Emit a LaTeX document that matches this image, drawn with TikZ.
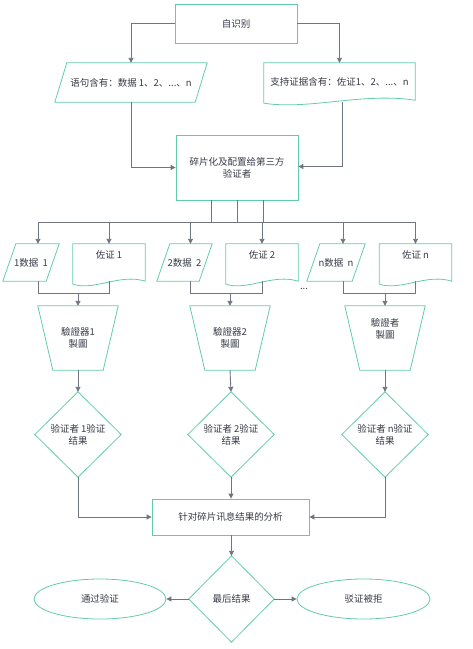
\documentclass[tikz,border=0pt]{standalone}
\usepackage{fontspec}
\setmainfont{Noto Sans CJK SC}
\usetikzlibrary{arrows.meta,calc,shapes.geometric}
\definecolor{bd}{RGB}{98,204,170}
\definecolor{ln}{RGB}{112,117,128}
\definecolor{tx}{RGB}{55,58,70}
\newcommand\mypgram[2]{\draw[shp] ($(#1.north west)+(#2,0)$) -- (#1.north east) -- ($(#1.south east)+(-#2,0)$) -- (#1.south west) -- cycle;}
\newcommand\mydoc[1]{\draw[shp] ($(#1.south west)+(0,3)$) -- (#1.north west) -- (#1.north east) -- (#1.south east) .. controls ($(#1.south east)!0.35!(#1.south west)+(0,-8)$) and ($(#1.south east)!0.7!(#1.south west)+(0,10)$) .. ($(#1.south west)+(0,3)$);}
\newcommand\mytrap[1]{\draw[shp] (#1.north west) -- (#1.north east) -- ($(#1.south east)+(-15,0)$) -- ($(#1.south west)+(15,0)$) -- cycle;}
\newcommand\mydia[1]{\draw[shp] (#1.north) -- (#1.east) -- (#1.south) -- (#1.west) -- cycle;}
\begin{document}
\begin{tikzpicture}[x=1pt,y=-1pt,
  font=\fontsize{9.5}{12}\selectfont,
  shp/.style={draw=bd, line width=0.8pt},
  base/.style={inner sep=0pt, align=center, text=tx},
  rbox/.style={base, draw=bd, line width=0.8pt},
  conn/.style={draw=ln, line width=0.9pt},
  arr/.style={conn, -{Triangle[length=5pt,width=5pt]}}]
\useasboundingbox (0,0) rectangle (473,649);
% top
\node[rbox, minimum width=122pt, minimum height=39pt] (top) at (236,23.5) {自识别};
\node[base, minimum width=152pt, minimum height=39pt] (p0) at (131,82.5) {语句含有：数据 1、2、...、n};
\mypgram{p0}{12}
\node[base, minimum width=151pt, minimum height=37pt] (d0) at (339.5,81.5) {支持证据含有：佐证1、2、...、n};
\mydoc{d0}
\draw[arr] (top.west) -| (p0.north);
\draw[arr] (top.east) -| (d0.north);
\node[rbox, minimum width=122pt, minimum height=65pt] (frag) at (237,167.5) {碎片化及配置给第三方\\验证者};
\draw[arr] (p0.south) |- (frag.west);
\draw[arr] ($(d0.south)+(3,2)$) |- ($(frag.east)+(0,-1)$);
% bus
\coordinate (b0) at (38,222);
\draw[conn] ($(frag.south)+(-26,0)$) -- ($(frag.south)+(-26,22)$);
\draw[conn] (frag.south) -- ($(frag.south)+(0,22)$);
\draw[conn] ($(frag.south)+(26,0)$) -- ($(frag.south)+(26,22)$);
% row
\node[base, minimum width=56pt, minimum height=37pt] (p1) at (31,262.5) {1数据\ \ 1};
\mypgram{p1}{13}
\node[base, minimum width=72pt, minimum height=37pt] (c1) at (109,262.5) {佐证 1\\[4pt]};
\mydoc{c1}
\node[base, minimum width=55pt, minimum height=37pt] (p2) at (184.5,262.5) {2数据\ \ 2};
\mypgram{p2}{13}
\node[base, minimum width=72pt, minimum height=37pt] (c2) at (262,262.5) {佐证 2\\[4pt]};
\mydoc{c2}
\node[base, minimum width=58pt, minimum height=37pt] (pn) at (336,262.5) {n数据\ \ n};
\mypgram{pn}{13}
\node[base, minimum width=72pt, minimum height=37pt] (cn) at (415.5,262.5) {佐证 n\\[4pt]};
\mydoc{cn}
\node[base] (dots) at (304,289) {...};
\coordinate (p1t) at ($(p1.north)+(7,0)$);
\coordinate (p2t) at ($(p2.north)+(6,0)$);
\coordinate (pnt) at ($(pn.north)+(7,0)$);
\coordinate (p1b) at ($(p1.south)+(7,0)$);
\coordinate (p2b) at ($(p2.south)+(6,0)$);
\coordinate (pnb) at ($(pn.south)+(7,0)$);
\coordinate (b1) at (cn.north |- b0);
\draw[conn] (b0) -- (b1);
\foreach \n in {p1t,c1.north,p2t,c2.north,pnt,cn.north}{\draw[arr] (\n |- b0) -- (\n);}
% verifiers
\node[base, minimum width=80pt, minimum height=64pt] (t1) at (78,338) {驗證器1\\製圖};
\mytrap{t1}
\node[base, minimum width=80pt, minimum height=64pt] (t2) at (230,338) {驗證器2\\製圖};
\mytrap{t2}
\node[base, minimum width=80pt, minimum height=64pt] (tn) at (385,338) {};
\mytrap{tn}
\node[base] (tnl) at (385,329) {驗證者\\製圖};
\coordinate (m1) at ($(t1.north)+(0,-12)$);
\coordinate (m2) at ($(t2.north)+(0,-12)$);
\coordinate (mn) at ($(tn.north)+(0,-12)$);
\draw[conn] (p1b) |- (m1) -| (c1.south);
\draw[conn] (p2b) |- (m2) -| (c2.south);
\draw[conn] (pnb) |- (mn) -| (cn.south);
\draw[arr] (m1) -- (t1.north);
\draw[arr] (m2) -- (t2.north);
\draw[arr] (mn) -- (tn.north);
% results
\node[base, minimum width=86pt, minimum height=85pt] (v1) at (78,434.5) {验证者 1验证\\结果};
\mydia{v1}
\node[base, minimum width=86pt, minimum height=85pt] (v2) at (231,434.5) {验证者 2验证\\结果};
\mydia{v2}
\node[base, minimum width=86pt, minimum height=85pt] (vn) at (385,434.5) {验证者 n验证\\结果};
\mydia{vn}
\draw[arr] (t1.south) -- (v1.north);
\draw[arr] (t2.south) -- (v2.north);
\draw[arr] (tn.south) -- (vn.north);
\node[rbox, minimum width=157pt, minimum height=36pt] (an) at (230.5,517) {针对碎片讯息结果的分析};
\draw[arr] (v1.south) |- (an.west);
\draw[arr] (v2.south) -- (v2.south |- an.north);
\draw[arr] (vn.south) |- (an.east);
\node[base, minimum width=85pt, minimum height=86pt] (fd) at (231.5,599) {最后结果};
\mydia{fd}
\draw[arr] (an.south -| fd.north) -- (fd.north);
\node[base, ellipse, draw=bd, line width=0.8pt, minimum width=132pt, minimum height=40pt] (e1) at (100,599) {通过验证};
\node[base, ellipse, draw=bd, line width=0.8pt, minimum width=133pt, minimum height=40pt] (e2) at (363.5,599) {驳证被拒};
\draw[arr] (fd.west) -- (e1.east);
\draw[arr] (fd.east) -- (e2.west);
\end{tikzpicture}
\end{document}
